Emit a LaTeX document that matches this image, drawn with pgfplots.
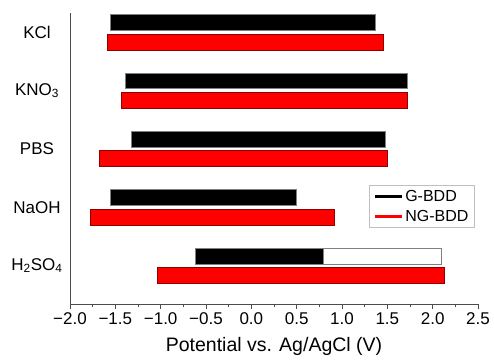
\documentclass[border=0pt]{standalone}
\usepackage{pgfplots}
\pgfplotsset{compat=1.18}
\usepackage{fontspec}
\setmainfont{Liberation Sans}

% Each bar: potential window [start, end] (V) drawn as a floating bar.
% G-BDD bars sit at category + 0.031 ... + 0.305, NG-BDD at category - 0.305 ... - 0.031
% categories: 1 H2SO4, 2 NaOH, 3 PBS, 4 KNO3, 5 KCl
\pgfplotsset{
  gb/.style={fill=black, draw=black!50, line width=0.6pt},
  gbopen/.style={fill=white, draw=black!50, line width=0.6pt},
  ngb/.style={fill=red, draw=red!55!black, line width=0.6pt},
}

\begin{document}
\begin{tikzpicture}
\useasboundingbox (-70pt,-56pt) rectangle (424pt,304pt);
\begin{axis}[scale only axis, width=408pt, height=291pt,
  xmin=-2, xmax=2.5, ymin=0.342, ymax=5.33, clip=false,
  axis x line*=bottom, axis y line*=left,
  axis line style={black!70, line width=0.8pt},
  xtick={-2,-1.5,-1,-0.5,0,0.5,1,1.5,2,2.5},
  xticklabels={−2.0,−1.5,−1.0,−0.5,0.0,0.5,1.0,1.5,2.0,2.5},
  minor x tick num=1,
  tick align=outside, major tick length=5pt, minor tick length=3pt,
  x tick style={black!70, line width=0.8pt},
  ytick={1,2,3,4,5},
  yticklabels={H\textsubscript{2}SO\textsubscript{4}, NaOH, PBS, KNO\textsubscript{3}, KCl},
  y tick style={draw=none},
  yticklabel style={anchor=center, xshift=-28pt},
  ticklabel style={font=\fontsize{17}{20}\selectfont},
  xlabel={Potential vs. Ag/AgCl (V)},
  xlabel style={font=\fontsize{19.5}{22}\selectfont, yshift=-6pt},
  legend style={at={(0.733,0.409)}, anchor=north west, draw=black!25,
    font=\fontsize{16}{18}\selectfont, cells={anchor=west},
    inner xsep=4pt, inner ysep=3pt, row sep=3pt},
  legend image code/.code={\draw[#1, line width=3pt] (0pt,0pt) -- (27pt,0pt);},
]
\addlegendimage{black, line width=3pt}\addlegendentry{G-BDD}
\addlegendimage{red, line width=3pt}\addlegendentry{NG-BDD}
% ---- G-BDD ----
\addplot[gbopen] coordinates {(0.79,1.031) (2.10,1.031) (2.10,1.305) (0.79,1.305)} -- cycle;
\addplot[gb] coordinates {(-0.62,1.031) (0.79,1.031) (0.79,1.305) (-0.62,1.305)} -- cycle;
\addplot[gb] coordinates {(-1.56,2.031) (0.50,2.031) (0.50,2.305) (-1.56,2.305)} -- cycle;
\addplot[gb] coordinates {(-1.32,3.031) (1.48,3.031) (1.48,3.305) (-1.32,3.305)} -- cycle;
\addplot[gb] coordinates {(-1.39,4.031) (1.72,4.031) (1.72,4.305) (-1.39,4.305)} -- cycle;
\addplot[gb] coordinates {(-1.56,5.031) (1.37,5.031) (1.37,5.305) (-1.56,5.305)} -- cycle;
% ---- NG-BDD ----
\addplot[ngb] coordinates {(-1.04,0.695) (2.13,0.695) (2.13,0.969) (-1.04,0.969)} -- cycle;
\addplot[ngb] coordinates {(-1.78,1.695) (0.92,1.695) (0.92,1.969) (-1.78,1.969)} -- cycle;
\addplot[ngb] coordinates {(-1.68,2.695) (1.50,2.695) (1.50,2.969) (-1.68,2.969)} -- cycle;
\addplot[ngb] coordinates {(-1.43,3.695) (1.72,3.695) (1.72,3.969) (-1.43,3.969)} -- cycle;
\addplot[ngb] coordinates {(-1.59,4.695) (1.45,4.695) (1.45,4.969) (-1.59,4.969)} -- cycle;
\end{axis}
\end{tikzpicture}
\end{document}
